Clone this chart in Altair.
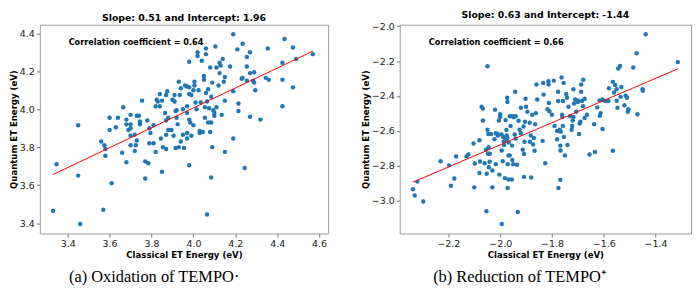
import altair as alt
import pandas as pd

# ---------------- Panel (a): Oxidation of TEMPO ----------------
x_a = [3.33, 3.347, 3.45, 3.45, 3.46, 3.56, 3.575, 3.57, 3.58, 3.58,
       3.60, 3.60, 3.61, 3.63, 3.64, 3.665, 3.66, 3.68, 3.68, 3.68,
       3.69, 3.70, 3.70, 3.70, 3.70, 3.70, 3.72, 3.72, 3.725, 3.73,
       3.73, 3.74, 3.745, 3.745, 3.755, 3.77, 3.77, 3.785, 3.78, 3.79,
       3.795, 3.79, 3.81, 3.81, 3.82, 3.82, 3.825, 3.83, 3.84, 3.84,
       3.845, 3.85, 3.85, 3.855, 3.865, 3.87, 3.87, 3.87, 3.87, 3.875,
       3.88, 3.88, 3.895, 3.90, 3.905, 3.91, 3.91, 3.915, 3.915, 3.92,
       3.92, 3.925, 3.93, 3.93, 3.935, 3.94, 3.94, 3.95, 3.95, 3.955,
       3.96, 3.97, 3.97, 3.97, 3.97, 3.97, 3.98, 3.98, 3.98, 3.98,
       3.98, 3.985, 3.99, 3.99, 4.00, 4.00, 4.005, 4.005, 4.01, 4.015,
       4.02, 4.02, 4.025, 4.03, 4.03, 4.035, 4.04, 4.045, 4.05, 4.05,
       4.055, 4.055, 4.06, 4.06, 4.06, 4.065, 4.065, 4.07, 4.07, 4.075,
       4.08, 4.08, 4.085, 4.085, 4.085, 4.09, 4.09, 4.095, 4.10, 4.10,
       4.105, 4.11, 4.11, 4.12, 4.125, 4.125, 4.13, 4.135, 4.14, 4.145,
       4.15, 4.15, 4.15, 4.175, 4.19, 4.19, 4.19, 4.21, 4.215, 4.215,
       4.23, 4.235, 4.235, 4.245, 4.255, 4.255, 4.255, 4.27, 4.27, 4.27,
       4.285, 4.29, 4.29, 4.295, 4.32, 4.345, 4.355, 4.36, 4.425, 4.425,
       4.425, 4.435, 4.475, 4.475, 4.49, 4.57]
y_a = [3.465, 3.71, 3.65, 3.915, 3.395, 3.83, 3.81, 3.47, 3.79, 3.755,
       3.955, 3.89, 3.61, 3.905, 3.955, 4.01, 3.77, 3.945, 3.92, 3.72,
       3.89, 3.97, 3.92, 3.86, 3.81, 3.90, 3.865, 3.78, 3.81, 3.835,
       3.965, 3.965, 3.92, 3.935, 4.045, 3.635, 3.725, 3.715, 3.94, 3.90,
       3.875, 3.82, 3.915, 3.82, 3.775, 4.015, 4.05, 4.04, 4.08, 4.015,
       3.845, 4.045, 3.67, 3.80, 3.98, 3.94, 4.075, 3.865, 3.79, 4.095,
       3.89, 3.955, 3.89, 4.05, 3.86, 4.075, 4.04, 3.99, 3.795, 3.995,
       3.955, 3.92, 3.80, 4.145, 4.075, 3.83, 4.11, 3.865, 4.00, 3.795,
       4.125, 3.845, 3.875, 4.015, 3.98, 4.12, 4.08, 3.945, 4.25, 4.115,
       3.705, 3.93, 4.075, 3.86, 4.10, 3.915, 4.125, 4.145, 4.035, 4.00,
       4.30, 4.28, 4.10, 3.885, 3.875, 4.035, 4.255, 3.88, 4.175, 4.155,
       4.01, 3.955, 4.29, 4.32, 4.085, 3.445, 4.04, 3.93, 4.105, 4.005,
       3.88, 4.22, 3.64, 3.93, 4.065, 3.80, 4.14, 3.995, 3.965, 3.98,
       4.33, 4.01, 4.22, 4.125, 4.245, 4.19, 4.23, 3.97, 4.265, 4.145,
       4.17, 4.045, 3.775, 4.225, 4.095, 3.845, 4.395, 4.315, 4.03, 3.99,
       4.16, 4.345, 4.165, 3.69, 4.225, 4.275, 4.15, 3.96, 4.30, 4.19,
       4.15, 4.195, 4.14, 4.10, 3.945, 4.165, 4.32, 4.155, 4.245, 4.155,
       4.015, 4.37, 4.325, 4.115, 4.265, 4.29]

# ---------------- Panel (b): Reduction of TEMPO+ ----------------
x_b = [-2.337, -2.33, -2.32, -2.297, -2.23, -2.197, -2.19, -2.177, -2.17, -2.13,
       -2.123, -2.103, -2.10, -2.098, -2.08, -2.08, -2.078, -2.072, -2.067, -2.067,
       -2.06, -2.055, -2.053, -2.052, -2.049, -2.049, -2.047, -2.046, -2.045, -2.044,
       -2.041, -2.04, -2.036, -2.03, -2.03, -2.022, -2.02, -2.017, -2.017, -2.01,
       -2.009, -2.005, -2.003, -2.0, -2.0, -1.995, -1.994, -1.994, -1.99, -1.988,
       -1.986, -1.985, -1.982, -1.98, -1.979, -1.976, -1.975, -1.972, -1.973, -1.972,
       -1.971, -1.971, -1.968, -1.968, -1.967, -1.963, -1.963, -1.96, -1.955, -1.954,
       -1.953, -1.952, -1.95, -1.948, -1.944, -1.942, -1.94, -1.94, -1.935, -1.932,
       -1.929, -1.925, -1.92, -1.92, -1.913, -1.91, -1.908, -1.908, -1.906, -1.904,
       -1.902, -1.90, -1.895, -1.886, -1.885, -1.882, -1.88, -1.876, -1.873, -1.87,
       -1.867, -1.865, -1.862, -1.86, -1.857, -1.836, -1.834, -1.832, -1.826, -1.817,
       -1.814, -1.813, -1.812, -1.81, -1.80, -1.793, -1.79, -1.78, -1.78, -1.776,
       -1.776, -1.775, -1.77, -1.768, -1.768, -1.767, -1.766, -1.763, -1.761, -1.76,
       -1.758, -1.758, -1.755, -1.754, -1.75, -1.745, -1.742, -1.74, -1.736, -1.73,
       -1.724, -1.722, -1.72, -1.717, -1.717, -1.715, -1.71, -1.706, -1.70, -1.70,
       -1.695, -1.693, -1.69, -1.687, -1.687, -1.684, -1.68, -1.679, -1.674, -1.674,
       -1.665, -1.655, -1.637, -1.634, -1.625, -1.616, -1.615, -1.612, -1.606, -1.605,
       -1.60, -1.592, -1.582, -1.58, -1.565, -1.565, -1.56, -1.556, -1.55, -1.55,
       -1.547, -1.544, -1.537, -1.535, -1.532, -1.52, -1.515, -1.51, -1.507, -1.505,
       -1.486, -1.473, -1.47, -1.45, -1.449, -1.438, -1.314]
y_b = [-2.934, -2.97, -2.89, -3.004, -2.774, -2.797, -2.914, -2.872, -2.746, -2.746,
       -2.735, -2.672, -2.923, -2.786, -2.653, -2.841, -2.775, -2.462, -2.471, -2.54,
       -2.785, -2.708, -3.06, -2.845, -2.23, -2.593, -2.73, -2.617, -2.693, -2.808,
       -2.776, -2.73, -2.617, -2.826, -2.923, -2.648, -2.478, -2.613, -2.79, -2.617,
       -2.626, -2.54, -2.85, -2.504, -2.52, -2.62, -2.712, -3.133, -2.774, -2.635,
       -2.662, -2.68, -2.87, -2.653, -2.538, -2.595, -2.626, -2.64, -2.41, -2.434,
       -2.79, -2.927, -2.74, -2.878, -2.666, -2.516, -2.74, -2.571, -2.878, -2.684,
       -2.766, -2.516, -2.79, -2.522, -2.62, -2.376, -2.516, -2.644, -2.794, -3.064,
       -2.542, -2.593, -2.613, -2.467, -2.708, -2.575, -2.863, -2.732, -2.662, -2.547,
       -2.416, -2.462, -2.49, -2.553, -2.662, -2.626, -2.867, -2.507, -2.677, -2.64,
       -2.713, -2.562, -2.498, -2.334, -2.42, -2.657, -2.325, -2.392, -2.785, -2.476,
       -2.316, -2.334, -2.44, -2.487, -2.507, -2.312, -2.571, -2.648, -2.60, -2.376,
       -2.429, -2.927, -2.593, -2.684, -2.88, -2.712, -2.604, -2.294, -2.507, -2.52,
       -2.429, -2.571, -2.325, -2.635, -2.74, -2.389, -2.41, -2.68, -2.462, -2.516,
       -2.593, -2.571, -2.54, -2.52, -2.361, -2.443, -2.42, -2.49, -2.425, -2.434,
       -2.617, -2.558, -2.547, -2.376, -2.334, -2.429, -2.458, -2.307, -2.416, -2.526,
       -2.507, -2.735, -2.562, -2.721, -2.465, -2.425, -2.513, -2.498, -2.42, -2.589,
       -2.425, -2.429, -2.429, -2.356, -2.319, -2.713, -2.38, -2.337, -2.361, -2.427,
       -2.467, -2.243, -2.228, -2.405, -2.348, -2.453, -2.398, -2.41, -2.49, -2.476,
       -2.237, -2.155, -2.504, -2.361, -2.37, -2.046, -2.206]

titles = ["Slope: 0.51 and Intercept: 1.96", "Slope: 0.63 and Intercept: -1.44"]
corr_texts = ["Correlation coefficient = 0.64", "Correlation coefficient = 0.66"]
captions = ["(a) Oxidation of TEMPO\u00b7", "(b) Reduction of TEMPO\u207a"]
x_ticks_a = [3.4, 3.6, 3.8, 4.0, 4.2, 4.4, 4.6]
y_ticks_a = [3.4, 3.6, 3.8, 4.0, 4.2, 4.4]
x_ticks_b = [-2.2, -2.0, -1.8, -1.6, -1.4]
y_ticks_b = [-3.0, -2.8, -2.6, -2.4, -2.2, -2.0]
x_dom_a = [3.267, 4.643]
y_dom_a = [3.345, 4.445]
x_dom_b = [-2.388, -1.263]
y_dom_b = [-3.187, -1.992]

H = 210


def panel(xs, ys, xdom, ydom, xt, yt, title, corr, caption, W, cap_x):
    df = pd.DataFrame({"x": xs, "y": ys})
    xenc = alt.X("x:Q", scale=alt.Scale(domain=xdom, nice=False, zero=False),
                 axis=alt.Axis(values=xt, format=".1f", title="Classical ET Energy (eV)"))
    yenc = alt.Y("y:Q", scale=alt.Scale(domain=ydom, nice=False, zero=False),
                 axis=alt.Axis(values=yt, format=".1f", title="Quantum ET Energy (eV)"))
    pts = alt.Chart(df).mark_circle(size=20, color="#1f77b4", opacity=1).encode(x=xenc, y=yenc)
    line = (alt.Chart(df).transform_regression("x", "y")
            .mark_line(color="#ff0000", strokeWidth=1)
            .encode(x="x:Q", y="y:Q"))
    ann = (alt.Chart(pd.DataFrame({"t": [corr]}))
           .mark_text(align="left", baseline="middle", fontWeight="bold", fontSize=8.2,
                      font="DejaVu Sans", color="black")
           .encode(x=alt.value(0.1 * W), y=alt.value(0.087 * H), text="t:N"))
    cap = (alt.Chart(pd.DataFrame({"t": [caption]}))
           .mark_text(align="center", baseline="alphabetic", fontSize=16.5,
                      font="Liberation Serif", color="black")
           .encode(x=alt.value(cap_x), y=alt.value(H + 49), text="t:N"))
    return alt.layer(pts, line, ann, cap).properties(width=W, height=H, title=title)


p1 = panel(x_a, y_a, x_dom_a, y_dom_a, x_ticks_a, y_ticks_a, titles[0], corr_texts[0], captions[0], 290, 115)
p2 = panel(x_b, y_b, x_dom_b, y_dom_b, x_ticks_b, y_ticks_b, titles[1], corr_texts[1], captions[1], 293, 121)

chart = (alt.hconcat(p1, p2, spacing=31)
         .properties(padding=0)
         .configure_view(stroke="#9a9a9a", strokeWidth=1)
         .configure_axis(domain=False, grid=False, tickColor="#555555", tickSize=3.5, tickWidth=0.8,
                         labelFont="DejaVu Sans", labelFontSize=9.5, labelColor="#222222", labelPadding=2,
                         titleFont="DejaVu Sans", titleFontSize=8.6, titleFontWeight="bold",
                         titleColor="black", titlePadding=2)
         .configure_axisY(titlePadding=1)
         .configure_title(font="DejaVu Sans", fontSize=9.4, fontWeight="bold", color="black",
                          offset=1, anchor="middle"))

chart.save("out.html", embed_options={"renderer": "svg", "actions": False})
